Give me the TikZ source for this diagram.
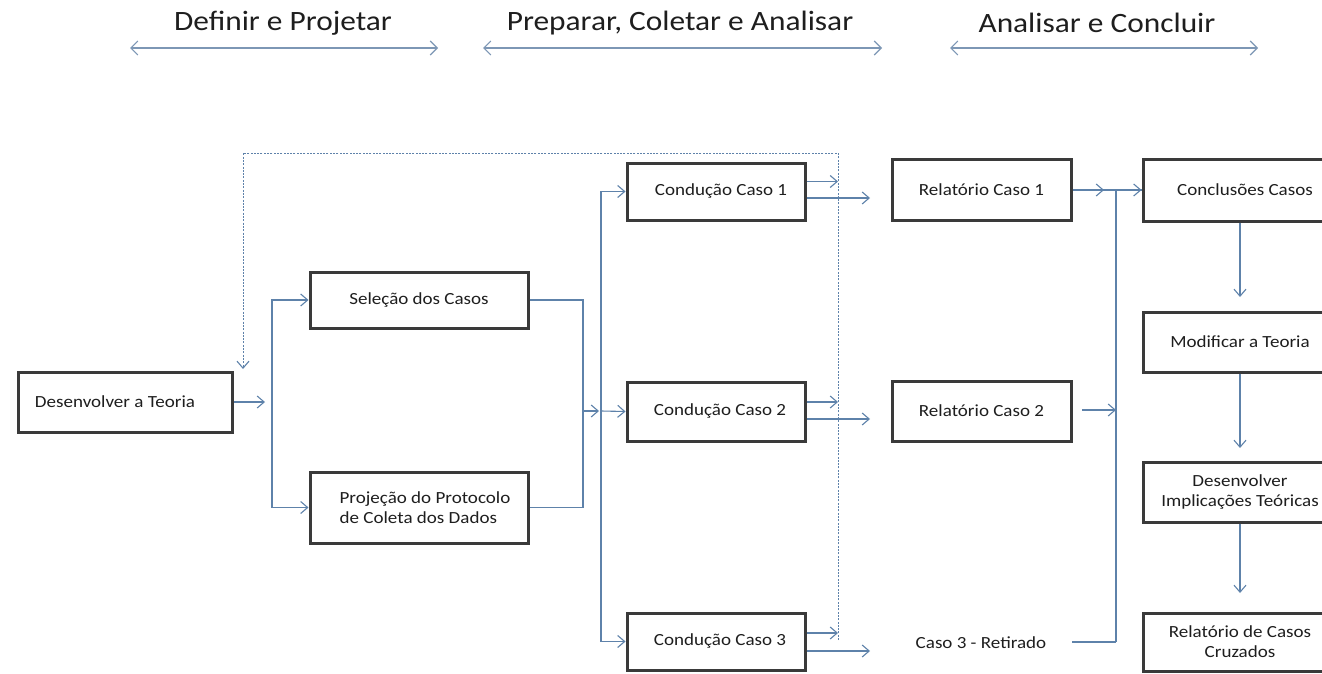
\documentclass[tikz,border=0pt]{standalone}
\usepackage{fontspec}
\setmainfont{Carlito}[FakeStretch=1.12]
\usetikzlibrary{arrows.meta}
\definecolor{lnc}{HTML}{5E82AA}
\definecolor{hac}{HTML}{7D97B5}
\definecolor{bdc}{HTML}{3A3A3A}
\definecolor{txc}{HTML}{1E1E1E}
\begin{document}
\begin{tikzpicture}[x=1pt,y=-1pt,
  box/.style={draw=bdc,line width=3pt,text=txc,font=\fontsize{17}{20}\selectfont,inner sep=2pt,align=center},
  lbl/.style={text=txc,font=\fontsize{17}{20}\selectfont,inner sep=2pt},
  tip/.style={-{Straight Barb[length=7pt,width=12pt,line width=1.1pt]}},
  arr/.style={draw=lnc,line width=1.1pt,tip},
  ln/.style={draw=lnc,line width=1.1pt},
  dsh/.style={draw=lnc,line width=0.9pt,dash pattern=on 2pt off 1.3pt,tip},
  hdr/.style={text=txc,font=\fontsize{28}{30}\selectfont},
  harr/.style={draw=hac,line width=1.1pt,{Straight Barb[length=7pt,width=14pt,line width=1.1pt]}-{Straight Barb[length=7pt,width=14pt,line width=1.1pt]}}
]
\clip (0,0) rectangle (1322,674);
\fill[white] (0,0) rectangle (1322,674);

% headers
\node[hdr] (h1) at (283,23) {Definir e Projetar};
\node[hdr] (h2) at (680,23) {Preparar, Coletar e Analisar};
\node[hdr] (h3) at (1097,23) {Analisar e Concluir};
\coordinate (h1l) at (130,48); \coordinate (h1r) at (438,48);
\coordinate (h2l) at (483,48); \coordinate (h2r) at (882,48);
\coordinate (h3l) at (950,48); \coordinate (h3r) at (1258,48);
\draw[harr] (h1l) -- (h1r);
\draw[harr] (h2l) -- (h2r);
\draw[harr] (h3l) -- (h3r);

% boxes
\node[box,minimum width=214pt,minimum height=60pt] (dt) at (125,402) {Desenvolver a Teoria\hspace*{20pt}};
\node[box,minimum width=218pt,minimum height=56pt] (sel) at (419,300) {Seleção dos Casos};
\node[box,minimum width=218pt,minimum height=71pt,align=left] (proj) at (419,507.5) {\hspace*{12pt}Projeção do Protocolo\\\hspace*{12pt}de Coleta dos Dados};
\node[box,minimum width=178pt,minimum height=57pt] (c1) at (716,191.5) {\hspace*{10pt}Condução Caso 1};
\node[box,minimum width=178pt,minimum height=59pt] (c2) at (716,411.5) {\hspace*{8pt}Condução Caso 2};
\node[box,minimum width=178pt,minimum height=57pt] (c3) at (716,641.5) {\hspace*{8pt}Condução Caso 3};
\node[box,minimum width=179pt,minimum height=61pt] (r1) at (981.5,190) {Relatório Caso 1};
\node[box,minimum width=179pt,minimum height=60pt] (r2) at (981.5,411) {Relatório Caso 2};
\node[lbl] (r3) at (981,643) {Caso 3 - Retirado};
\node[box,minimum width=194pt,minimum height=62pt] (conc) at (1240,190) {\hspace*{10pt}Conclusões Casos};
\node[box,minimum width=194pt,minimum height=60pt] (mod) at (1240,342) {Modificar a Teoria};
\node[box,minimum width=194pt,minimum height=60pt] (dimp) at (1240,492) {Desenvolver\\Implicações Teóricas};
\node[box,minimum width=194pt,minimum height=58pt] (rcc) at (1240,642) {Relatório de Casos\\Cruzados};

% left part
\coordinate (a1) at (265,402);
\coordinate (v1) at (272,402);
\draw[arr] (dt.east) -- (a1);
\draw[arr] (v1) |- (sel.west);
\draw[arr] (v1) |- (proj.west);
\coordinate (j2) at (583,411);
\coordinate (a2) at (599,411);
\coordinate (v2) at (601,411);
\draw[ln] (sel.east) -| (j2) |- (proj.east);
\draw[arr] (j2) -- (a2);
\draw[arr] (v2) |- (c1.west);
\draw[arr] (v2) -- (c2.west);
\draw[arr] (v2) |- (c3.west);

% from conduction boxes
\coordinate (d1) at (838,181.5); \coordinate (e1) at (870,198);
\coordinate (d2) at (838,402);   \coordinate (e2) at (870,419);
\coordinate (d3) at (838,633);   \coordinate (e3) at (870,651);
\draw[arr] ([yshift=10pt]c1.east) -- (d1);
\draw[arr] ([yshift=-6.5pt]c1.east) -- (e1);
\draw[arr] ([yshift=9.5pt]c2.east) -- (d2);
\draw[arr] ([yshift=-7.5pt]c2.east) -- (e2);
\draw[arr] ([yshift=8.5pt]c3.east) -- (d3);
\draw[arr] ([yshift=-9.5pt]c3.east) -- (e3);

% dashed feedback
\coordinate (fb0) at (838,640);
\coordinate (fb1) at (838,153);
\coordinate (fb2) at (243,153);
\coordinate (fb3) at (243,369);
\draw[dsh] (fb0) -- (fb1) -- (fb2) -- (fb3);

% reports to conclusions
\coordinate (m1) at (1104,190);
\coordinate (k1) at (1116,190);
\coordinate (k2) at (1116,410);
\coordinate (k3) at (1116,642);
\coordinate (s2) at (1082,410);
\coordinate (s3) at (1072,642);
\draw[ln] (r1.east) -- (conc.west);
\draw[arr] (r1.east) -- (m1);
\draw[arr] (k1) -- (conc.west);
\draw[ln] (k1) -- (k3);
\draw[arr] (s2) -- (k2);
\draw[ln] (s3) -- (k3);

% right column
\coordinate (t1) at (1240,297);
\coordinate (t2) at (1240,448);
\coordinate (t3) at (1240,593);
\draw[arr] (conc.south) -- (t1);
\draw[arr] (mod.south) -- (t2);
\draw[arr] (dimp.south) -- (t3);
\end{tikzpicture}
\end{document}
